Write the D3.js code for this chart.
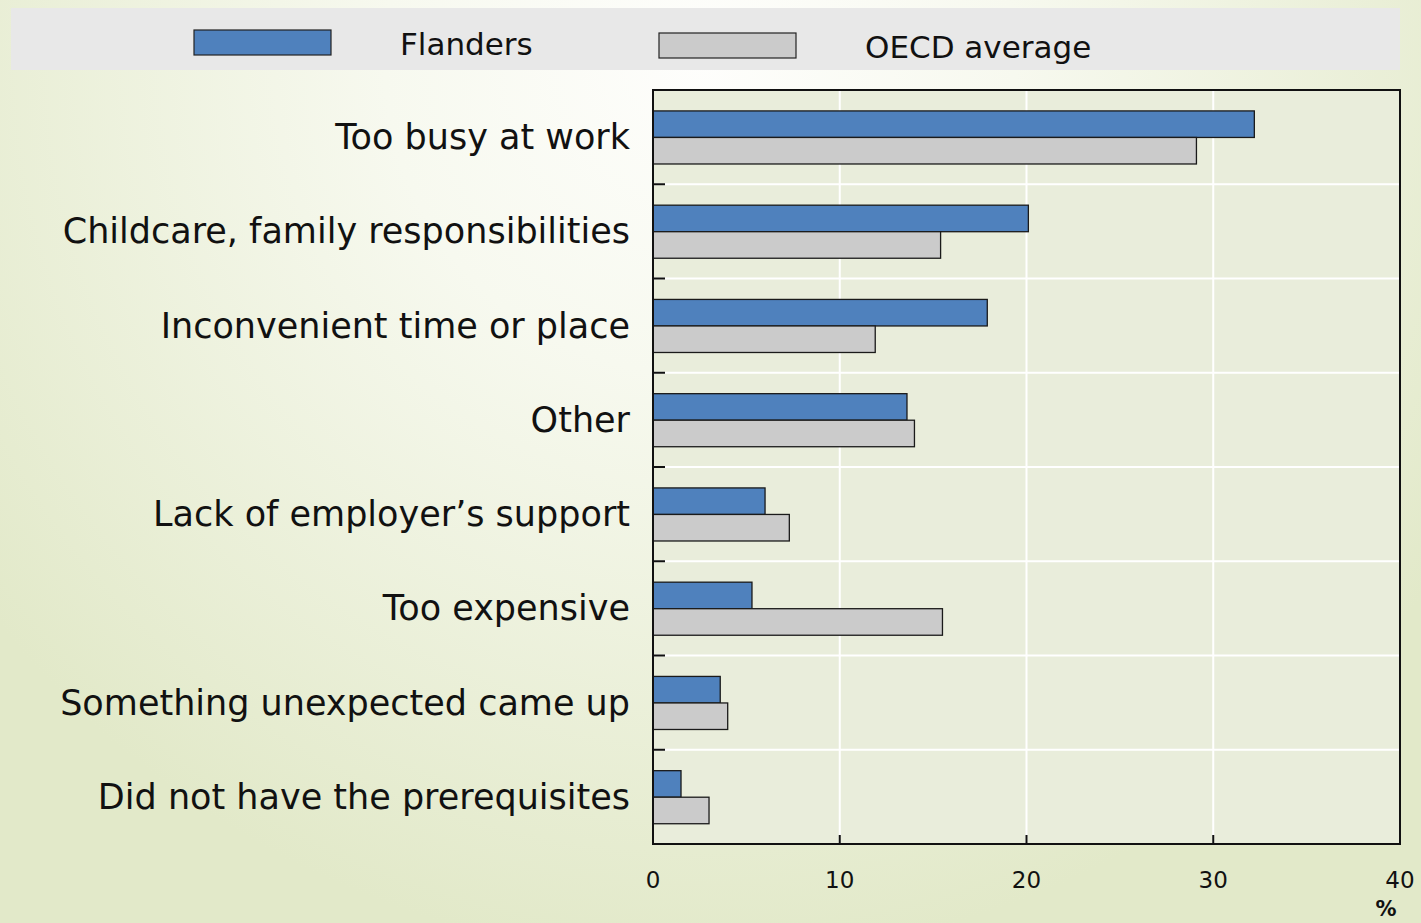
<!DOCTYPE html>
<html>
<head>
<meta charset="utf-8">
<script src="https://cdn.jsdelivr.net/npm/d3@7"></script>
<style>
  html, body { margin: 0; padding: 0; }
  svg { display: block; }
</style>
</head>
<body>
<svg id="chart"></svg>
<script>
// chart data
const categories = [
  'Too busy at work',
  'Childcare, family responsibilities',
  'Inconvenient time or place',
  'Other',
  'Lack of employer\u2019s support',
  'Too expensive',
  'Something unexpected came up',
  'Did not have the prerequisites'
];
const seriesNames = ['Flanders', 'OECD average'];
const flanders = [32.2, 20.1, 17.9, 13.6, 6.0, 5.3, 3.6, 1.5];
const oecd = [29.1, 15.4, 11.9, 14.0, 7.3, 15.5, 4.0, 3.0];
const xTicks = [0, 10, 20, 30, 40];
const colors = ['#4f81bd', '#cbcbcb'];

const W = 1421, H = 923;
const font = "'DejaVu Sans', sans-serif";
const margin = { left: 653, right: 21, top: 90, bottom: 79 };

const svg = d3.select('#chart').attr('width', W).attr('height', H);

// background gradient
const defs = svg.append('defs');
const grad = defs.append('radialGradient')
  .attr('id', 'bg')
  .attr('gradientUnits', 'userSpaceOnUse')
  .attr('cx', 700).attr('cy', 60).attr('r', 900);
grad.append('stop').attr('offset', '0%').attr('stop-color', '#fefefc');
grad.append('stop').attr('offset', '35%').attr('stop-color', '#f7f9ef');
grad.append('stop').attr('offset', '100%').attr('stop-color', '#e2e9c9');
svg.append('rect').attr('width', W).attr('height', H).attr('fill', 'url(#bg)');

// legend band
svg.append('rect')
  .attr('x', 11).attr('y', 8).attr('width', 1389).attr('height', 62)
  .attr('fill', '#e8e8e8');

const legendPos = [
  { sx: 194, sy: 30, tx: 400, ty: 55 },
  { sx: 659, sy: 33, tx: 865, ty: 58 }
];
seriesNames.forEach((name, i) => {
  const p = legendPos[i];
  svg.append('rect')
    .attr('x', p.sx).attr('y', p.sy).attr('width', 137).attr('height', 25)
    .attr('fill', colors[i]).attr('stroke', '#222').attr('stroke-width', 1.2);
  svg.append('text')
    .attr('x', p.tx).attr('y', p.ty)
    .attr('font-family', font).attr('font-size', 31)
    .attr('fill', '#111')
    .text(name);
});

const x = d3.scaleLinear().domain([0, 40])
  .range([margin.left, W - margin.right]);
const y0 = d3.scaleBand().domain(categories)
  .range([margin.top, H - margin.bottom]);
const bw = y0.bandwidth();
const y1 = d3.scaleBand().domain(seriesNames)
  .range([bw * 0.222, bw * 0.785]);

// plot area
svg.append('rect')
  .attr('x', x(0)).attr('y', margin.top)
  .attr('width', x(40) - x(0)).attr('height', H - margin.bottom - margin.top)
  .attr('fill', '#e9eddb');

const grid = svg.append('g');
grid.selectAll('line.v')
  .data(xTicks.slice(1, -1))
  .join('line')
  .attr('x1', d => x(d)).attr('x2', d => x(d))
  .attr('y1', margin.top).attr('y2', H - margin.bottom)
  .attr('stroke', '#fff').attr('stroke-width', 2);
grid.selectAll('line.h')
  .data(categories.slice(1))
  .join('line')
  .attr('x1', x(0)).attr('x2', x(40))
  .attr('y1', d => y0(d)).attr('y2', d => y0(d))
  .attr('stroke', '#fff').attr('stroke-width', 2);

// bars
const rows = categories.map((c, i) => ({ cat: c, vals: [flanders[i], oecd[i]] }));
const g = svg.append('g');
g.selectAll('g')
  .data(rows)
  .join('g')
  .attr('transform', d => `translate(0,${y0(d.cat)})`)
  .selectAll('rect')
  .data(d => d.vals.map((v, i) => ({ name: seriesNames[i], v, i })))
  .join('rect')
  .attr('x', x(0))
  .attr('y', d => y1(d.name))
  .attr('width', d => x(d.v) - x(0))
  .attr('height', y1.bandwidth())
  .attr('fill', d => colors[d.i])
  .attr('stroke', '#1a1a1a')
  .attr('stroke-width', 1.3);

// left ticks between bands
svg.append('g').selectAll('line')
  .data(categories.slice(1))
  .join('line')
  .attr('x1', x(0)).attr('x2', x(0) + 12)
  .attr('y1', d => y0(d)).attr('y2', d => y0(d))
  .attr('stroke', '#111').attr('stroke-width', 2);

// bottom ticks
svg.append('g').selectAll('line')
  .data(xTicks.slice(1, -1))
  .join('line')
  .attr('x1', d => x(d)).attr('x2', d => x(d))
  .attr('y1', H - margin.bottom).attr('y2', H - margin.bottom - 9)
  .attr('stroke', '#111').attr('stroke-width', 2);

// frame
svg.append('rect')
  .attr('x', x(0)).attr('y', margin.top)
  .attr('width', x(40) - x(0)).attr('height', H - margin.bottom - margin.top)
  .attr('fill', 'none').attr('stroke', '#111').attr('stroke-width', 2);

// category labels
svg.append('g').selectAll('text')
  .data(categories)
  .join('text')
  .attr('x', 630)
  .attr('y', d => y0(d) + bw / 2 + 12)
  .attr('text-anchor', 'end')
  .attr('font-family', font).attr('font-size', 35)
  .attr('fill', '#111')
  .text(d => d);

// x tick labels
svg.append('g').selectAll('text')
  .data(xTicks)
  .join('text')
  .attr('x', d => x(d))
  .attr('y', 888)
  .attr('text-anchor', 'middle')
  .attr('font-family', font).attr('font-size', 23)
  .attr('fill', '#111')
  .text(d => d);

svg.append('text')
  .attr('x', 1386).attr('y', 916)
  .attr('text-anchor', 'middle')
  .attr('font-family', font).attr('font-size', 21).attr('font-weight', 'bold')
  .attr('fill', '#111')
  .text('%');
</script>
</body>
</html>
